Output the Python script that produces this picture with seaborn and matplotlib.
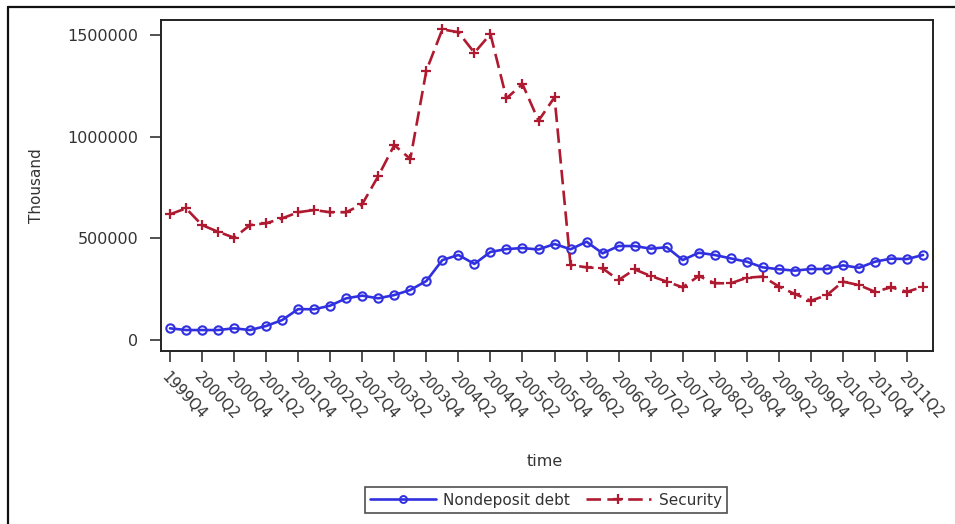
import matplotlib
matplotlib.use("Agg")
import matplotlib.pyplot as plt
from matplotlib.lines import Line2D
import numpy as np
import pandas as pd
import seaborn as sns

# Quarterly periods, 1999Q4 through 2011Q3
quarters = [
    "1999Q4",
    "2000Q1", "2000Q2", "2000Q3", "2000Q4",
    "2001Q1", "2001Q2", "2001Q3", "2001Q4",
    "2002Q1", "2002Q2", "2002Q3", "2002Q4",
    "2003Q1", "2003Q2", "2003Q3", "2003Q4",
    "2004Q1", "2004Q2", "2004Q3", "2004Q4",
    "2005Q1", "2005Q2", "2005Q3", "2005Q4",
    "2006Q1", "2006Q2", "2006Q3", "2006Q4",
    "2007Q1", "2007Q2", "2007Q3", "2007Q4",
    "2008Q1", "2008Q2", "2008Q3", "2008Q4",
    "2009Q1", "2009Q2", "2009Q3", "2009Q4",
    "2010Q1", "2010Q2", "2010Q3", "2010Q4",
    "2011Q1", "2011Q2", "2011Q3",
]

# Values in thousands
nondeposit_debt = [
    57500, 49000, 49000, 49000, 57500, 49000, 69000, 98000,
    152000, 151000, 169000, 205000, 218000, 205000, 221000, 246000,
    290000, 393000, 418000, 374000, 433000, 447000, 452000, 445000,
    472000, 446000, 483000, 426000, 462000, 462000, 449000, 456000,
    393000, 429000, 418000, 401000, 385000, 357000, 348000, 341000,
    349000, 349000, 367000, 355000, 385000, 400000, 398000, 418000,
]
security = [
    618000, 647000, 565000, 532000, 503000, 565000, 574000, 598000,
    628000, 639000, 628000, 628000, 668000, 806000, 958000, 890000,
    1324000, 1527000, 1513000, 1412000, 1504000, 1188000, 1258000, 1078000,
    1193000, 369000, 357000, 352000, 295000, 347000, 315000, 287000,
    259000, 315000, 279000, 279000, 306000, 312000, 263000, 226000,
    193000, 221000, 287000, 270000, 237000, 259000, 237000, 262000,
]

series_names = ["Nondeposit debt", "Security"]
y_ticks = [0, 500000, 1000000, 1500000]
x_tick_labels = quarters[::2]

debt_df = pd.DataFrame({"time": quarters, "value": nondeposit_debt})
sec_df = pd.DataFrame({"time": quarters, "value": security})

sns.set_style("white")
plt.rcParams["font.family"] = ["DejaVu Sans"]
plt.rcParams["axes.edgecolor"] = "#222222"

fig = plt.figure(figsize=(9.55, 5.24), dpi=100)
ax = fig.add_axes([161 / 955, 1 - 351 / 524, (933 - 161) / 955, (351 - 20) / 524])

blue = "#3030e0"
red = "#b01a30"
text_color = "#333333"
sec_dash = (5.5, 2.4)

sns.lineplot(data=debt_df, x="time", y="value", color=blue, marker="o",
             markersize=6, markerfacecolor="none", markeredgecolor=blue,
             markeredgewidth=1.5, linewidth=1.9, sort=False, ax=ax)
sns.lineplot(data=sec_df, x="time", y="value", color=red, marker="+",
             markersize=7.5, markeredgecolor=red, markeredgewidth=1.6,
             linewidth=1.9, sort=False, ax=ax)
ax.lines[-1].set_dashes(sec_dash)

ax.set_xlim(-0.56, len(quarters) - 1 + 0.62)
ax.set_ylim(-54000, 1573000)
ax.set_yticks(y_ticks)
ax.set_yticklabels([str(v) for v in y_ticks], fontsize=11.5, color=text_color)
ax.set_xticks(range(0, len(quarters), 2))
ax.set_xticklabels(x_tick_labels, fontsize=10.5, color=text_color)
for lbl in ax.get_xticklabels():
    lbl.set_rotation(-47)
    lbl.set_ha("left")
    lbl.set_va("top")
    lbl.set_rotation_mode("anchor")

ax.tick_params(axis="both", which="major", direction="out", length=8, width=1.1,
               color="#222222", bottom=True, left=True)
ax.tick_params(axis="x", pad=5)
ax.tick_params(axis="y", pad=8.5)
for s in ax.spines.values():
    s.set_linewidth(1.4)

ax.set_xlabel("time", fontsize=11.5, color=text_color)
ax.xaxis.set_label_coords(0.497, -0.31)
ax.set_ylabel("Thousand", fontsize=11, color=text_color)
ax.yaxis.set_label_coords(-0.152, 0.5)

handles = [
    Line2D([], [], color=blue, lw=1.9, marker="o", markersize=5,
           markerfacecolor="none", markeredgewidth=1.4),
    Line2D([], [], color=red, lw=1.9, marker="+", markersize=7,
           markeredgewidth=1.6, dashes=sec_dash),
]
leg = fig.legend(handles, series_names, loc="center", bbox_to_anchor=(546 / 955, 1 - 500 / 524),
                 ncol=2, frameon=True, fancybox=False, fontsize=11, handlelength=4.3,
                 handletextpad=0.5, columnspacing=1.0, borderpad=0.35, edgecolor="#222222")
leg.get_frame().set_linewidth(1.2)
for t in leg.get_texts():
    t.set_color(text_color)

# Outer frame lines on the left and top of the figure
fig.add_artist(Line2D([8 / 955, 8 / 955], [0, 1 - 7 / 524], transform=fig.transFigure,
                      color="#111111", lw=1.6))
fig.add_artist(Line2D([8 / 955, 1], [1 - 7 / 524, 1 - 7 / 524], transform=fig.transFigure,
                      color="#111111", lw=1.6))

fig.savefig("out.png", dpi=100, facecolor="white")
